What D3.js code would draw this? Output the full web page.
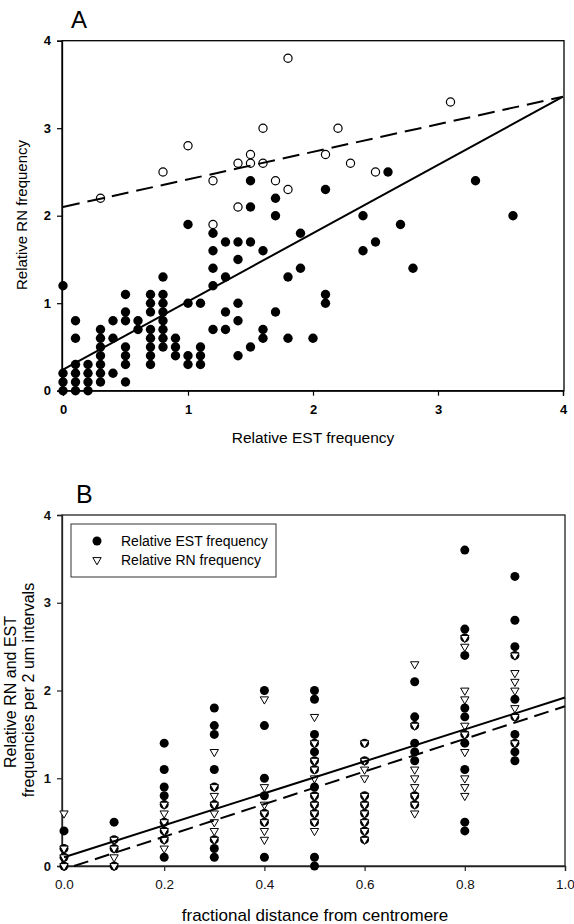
<!DOCTYPE html>
<html><head><meta charset="utf-8">
<script src="https://cdn.jsdelivr.net/npm/d3@7"></script>
<style>
html,body{margin:0;padding:0;background:#fff;}
text{font-family:"Liberation Sans",Arial,sans-serif;}
</style></head>
<body>
<svg id="chart" width="574" height="924"></svg>
<script>
// ---------- Panel A data ----------
const estFilledX = [0,0,0,0, 0.1,0.1,0.1,0.1,0.1,0.1, 0.2,0.2,0.2,0.2, 0.3,0.3,0.3,0.3,0.3,0.3,0.3,
  0.4,0.4,0.4, 0.5,0.5,0.5,0.5,0.5,0.5,0.5, 0.6,0.6, 0.7,0.7,0.7,0.7,0.7,0.7,0.7,0.7,
  0.8,0.8,0.8,0.8,0.8,0.8,0.8,0.8, 0.9,0.9,0.9, 1.0,1.0,1.0,1.0, 1.1,1.1,1.1,1.1,
  1.2,1.2,1.2,1.2,1.2, 1.3,1.3,1.3,1.3, 1.4,1.4,1.4,1.4,1.4, 1.5,1.5,1.5,1.5,
  1.6,1.6,1.6, 1.7,1.7,1.7, 1.8,1.8, 1.9,1.9, 2.0, 2.1,2.1,2.1, 2.4,2.4, 2.5, 2.6, 2.7, 2.8, 3.3, 3.6];
const rnFilledY = [0,0.1,0.2,1.2, 0,0.1,0.2,0.3,0.6,0.8, 0,0.1,0.2,0.3, 0.1,0.2,0.3,0.4,0.5,0.6,0.7,
  0.2,0.6,0.8, 0.1,0.3,0.4,0.5,0.8,0.9,1.1, 0.7,0.8, 0.3,0.4,0.5,0.6,0.7,0.9,1.0,1.1,
  0.5,0.6,0.7,0.8,0.9,1.0,1.1,1.3, 0.4,0.5,0.6, 0.3,0.4,1.0,1.9, 0.3,0.4,0.5,1.0,
  0.7,1.2,1.4,1.6,1.8, 0.7,0.9,1.3,1.7, 0.4,0.8,1.0,1.5,1.7, 0.5,1.7,2.1,2.4,
  0.6,0.7,1.6, 0.9,2.0,2.2, 0.6,1.3, 1.4,1.8, 0.6, 1.0,1.1,2.3, 1.6,2.0, 1.7, 2.5, 1.9, 1.4, 2.4, 2.0];
const estOpenX = [0.3,0.8,1.0,1.2,1.2,1.4,1.4,1.5,1.5,1.6,1.6,1.7,1.8,1.8,2.1,2.2,2.3,2.5,3.1];
const rnOpenY  = [2.2,2.5,2.8,2.4,1.9,2.6,2.1,2.7,2.6,3.0,2.6,2.4,3.8,2.3,2.7,3.0,2.6,2.5,3.3];
const fitSolidA = [[0,0.24],[4,3.36]];
const fitDashedA = [[0,2.1],[4,3.36]];
const ticksA = [0,1,2,3,4];

// ---------- Panel B data ----------
const distEST = [0,0,0,0, 0.1,0.1,0.1,0.1,
  0.2,0.2,0.2,0.2,0.2,0.2,0.2,0.2,0.2,
  0.3,0.3,0.3,0.3,0.3,0.3,0.3,0.3,0.3,
  0.4,0.4,0.4,0.4,0.4,0.4,0.4,
  0.5,0.5,0.5,0.5,0.5,0.5,0.5,0.5,0.5,0.5,0.5,0.5,0.5,0.5,
  0.6,0.6,0.6,0.6,0.6,0.6,0.6,0.6,
  0.7,0.7,0.7,0.7,0.7,0.7,0.7,0.7,
  0.8,0.8,0.8,0.8,0.8,0.8,0.8,0.8,0.8,0.8,0.8,
  0.9,0.9,0.9,0.9,0.9,0.9,0.9,0.9,0.9,0.9];
const valEST = [0.4,0.2,0.1,0, 0.5,0.3,0.2,0,
  1.4,1.1,0.9,0.8,0.7,0.5,0.4,0.3,0.1,
  1.8,1.6,1.5,1.1,0.9,0.7,0.3,0.2,0.1,
  2.0,1.6,1.0,0.8,0.6,0.5,0.1,
  2.0,1.9,1.5,1.4,1.3,1.2,1.1,0.9,0.8,0.7,0.6,0.5,0.1,0,
  1.4,1.2,0.8,0.7,0.6,0.5,0.4,0.3,
  2.1,1.7,1.6,1.4,1.3,1.2,0.8,0.7,
  3.6,2.7,2.6,2.4,1.8,1.7,1.5,1.4,1.1,0.5,0.4,
  3.3,2.8,2.5,2.4,1.9,1.7,1.5,1.4,1.3,1.2];
const distRN = [0,0,0,0, 0.1,0.1,0.1,0.1,
  0.2,0.2,0.2,0.2,0.2,0.2,
  0.3,0.3,0.3,0.3,0.3,0.3,0.3,0.3,
  0.4,0.4,0.4,0.4,0.4,0.4,0.4,
  0.5,0.5,0.5,0.5,0.5,0.5,0.5,0.5,0.5,0.5,
  0.6,0.6,0.6,0.6,0.6,0.6,0.6,0.6,0.6,0.6,
  0.7,0.7,0.7,0.7,0.7,0.7,0.7,0.7,
  0.8,0.8,0.8,0.8,0.8,0.8,0.8,0.8,0.8,0.8,
  0.9,0.9,0.9,0.9,0.9,0.9,0.9];
const valRN = [0.6,0.2,0.1,0, 0.3,0.2,0.1,0,
  0.7,0.6,0.5,0.4,0.3,0.2,
  1.3,0.9,0.8,0.7,0.6,0.5,0.4,0.3,
  1.9,0.9,0.7,0.6,0.5,0.4,0.3,
  1.7,1.4,1.2,1.1,1.0,0.8,0.7,0.6,0.5,0.4,
  1.4,1.2,1.1,1.0,0.8,0.7,0.6,0.5,0.4,0.3,
  2.3,1.6,1.1,1.0,0.9,0.8,0.7,0.6,
  2.6,2.5,2.0,1.9,1.6,1.5,1.3,1.0,0.9,0.8,
  2.4,2.2,2.1,2.0,1.8,1.7,1.4];
const fitSolidB = [[0,0.1],[1,1.92]];
const fitDashedB = [[0.02,0],[1,1.82]];
const ticksBx = [0,0.2,0.4,0.6,0.8,1.0];
const ticksBy = [0,1,2,3,4];
const legendLabels = ["Relative EST frequency","Relative RN frequency"];

const svg = d3.select("#chart");

// ================= Panel A =================
const xA = d3.scaleLinear().domain([0,4]).range([63,563]);
const yA = d3.scaleLinear().domain([0,4]).range([390.7,40.7]);
const gA = svg.append("g");

gA.append("rect").attr("x",xA(0)-1).attr("y",yA(4)).attr("width",xA(4)-xA(0)+2).attr("height",yA(0)-yA(4))
  .attr("fill","none").attr("stroke","#000").attr("stroke-width",1.3);

const axA = gA.append("g").attr("transform",`translate(0,${yA(0)})`)
  .call(d3.axisBottom(xA).tickValues(ticksA).tickFormat(d3.format("d")).tickSize(5).tickPadding(9));
const ayA = gA.append("g").attr("transform",`translate(${xA(0)-1},0)`)
  .call(d3.axisLeft(yA).tickValues(ticksA).tickFormat(d3.format("d")).tickSize(5).tickPadding(6));
[axA,ayA].forEach(a=>{
  a.select(".domain").attr("stroke","#000").attr("stroke-width",1.3);
  a.selectAll(".tick line").attr("stroke","#000").attr("stroke-width",1.2);
  a.selectAll("text").attr("font-size",13).attr("fill","#000").attr("font-weight","bold")
    .style("font-family","'Liberation Sans',Arial,sans-serif");
});

const filledA = estFilledX.map((x,i)=>({x, y:rnFilledY[i]}));
const openA = estOpenX.map((x,i)=>({x, y:rnOpenY[i]}));

gA.selectAll("circle.f").data(filledA).enter().append("circle")
  .attr("cx",d=>xA(d.x)).attr("cy",d=>yA(d.y)).attr("r",4.7).attr("fill","#000");
gA.selectAll("circle.o").data(openA).enter().append("circle")
  .attr("cx",d=>xA(d.x)).attr("cy",d=>yA(d.y)).attr("r",4.1).attr("fill","#fff")
  .attr("stroke","#000").attr("stroke-width",1.2);

const lineA = d3.line().x(d=>xA(d[0])).y(d=>yA(d[1]));
gA.append("path").attr("d",lineA(fitSolidA)).attr("stroke","#000").attr("stroke-width",2).attr("fill","none");
gA.append("path").attr("d",lineA(fitDashedA)).attr("stroke","#000").attr("stroke-width",2)
  .attr("stroke-dasharray","17,8").attr("fill","none");

gA.append("text").attr("x",71).attr("y",28).attr("font-size",24).text("A");
gA.append("text").attr("x",(xA(0)+xA(4))/2).attr("y",443).attr("text-anchor","middle")
  .attr("font-size",15.5).text("Relative EST frequency");
gA.append("text").attr("transform",`translate(27,215) rotate(-90)`)
  .attr("text-anchor","middle").attr("font-size",15).text("Relative RN frequency");

// ================= Panel B =================
const xB = d3.scaleLinear().domain([0,1]).range([64,565]);
const yB = d3.scaleLinear().domain([0,4]).range([866,515]);
const gB = svg.append("g");

gB.append("rect").attr("x",xB(0)-2).attr("y",yB(4)).attr("width",xB(1)-xB(0)+2).attr("height",yB(0)-yB(4))
  .attr("fill","none").attr("stroke","#222").attr("stroke-width",1.3);

const axB = gB.append("g").attr("transform",`translate(0,${yB(0)})`)
  .call(d3.axisBottom(xB).tickValues(ticksBx).tickFormat(d3.format(".1f")).tickSize(5).tickPadding(8));
const ayB = gB.append("g").attr("transform",`translate(${xB(0)-2},0)`)
  .call(d3.axisLeft(yB).tickValues(ticksBy).tickFormat(d3.format("d")).tickSize(5).tickPadding(6));
[axB,ayB].forEach(a=>{
  a.select(".domain").attr("stroke","#222").attr("stroke-width",1.3);
  a.selectAll(".tick line").attr("stroke","#222").attr("stroke-width",1.2);
  a.selectAll("text").attr("font-size",13.5).attr("fill","#111")
    .style("font-family","'Liberation Sans',Arial,sans-serif");
});
ayB.selectAll("text").attr("font-weight","bold").attr("font-size",13);

const estB = distEST.map((x,i)=>({x, y:valEST[i]}));
const rnB = distRN.map((x,i)=>({x, y:valRN[i]}));
const tri = d3.symbol().type(d3.symbolTriangle).size(30);

gB.selectAll("circle.e").data(estB).enter().append("circle")
  .attr("cx",d=>xB(d.x)).attr("cy",d=>yB(d.y)).attr("r",4.5).attr("fill","#000");
gB.selectAll("path.r").data(rnB).enter().append("path")
  .attr("d",tri).attr("transform",d=>`translate(${xB(d.x)},${yB(d.y)}) rotate(180)`)
  .attr("fill","#fff").attr("stroke","#000").attr("stroke-width",1);

const lineB = d3.line().x(d=>xB(d[0])).y(d=>yB(d[1]));
gB.append("path").attr("d",lineB(fitSolidB)).attr("stroke","#000").attr("stroke-width",2).attr("fill","none");
gB.append("path").attr("d",lineB(fitDashedB)).attr("stroke","#000").attr("stroke-width",2)
  .attr("stroke-dasharray","15,7").attr("fill","none");

// legend
const lg = gB.append("g");
lg.append("rect").attr("x",71).attr("y",524).attr("width",205).attr("height",53)
  .attr("fill","#fff").attr("stroke","#333").attr("stroke-width",1);
lg.append("circle").attr("cx",97).attr("cy",541).attr("r",4.5).attr("fill","#000");
lg.append("path").attr("d",tri).attr("transform","translate(97,560) rotate(180)")
  .attr("fill","#fff").attr("stroke","#000").attr("stroke-width",1);
legendLabels.forEach((t,i)=>{
  lg.append("text").attr("x",121).attr("y",546+i*19).attr("font-size",14).text(t);
});

gB.append("text").attr("x",76).attr("y",503).attr("font-size",25).text("B");
gB.append("text").attr("x",315).attr("y",921).attr("text-anchor","middle")
  .attr("font-size",17).text("fractional distance from centromere");
gB.append("text").attr("transform",`translate(16,692) rotate(-90)`)
  .attr("text-anchor","middle").attr("font-size",16).text("Relative RN and EST");
gB.append("text").attr("transform",`translate(34,690) rotate(-90)`)
  .attr("text-anchor","middle").attr("font-size",16).text("frequencies per 2 um intervals");
</script>
</body></html>
